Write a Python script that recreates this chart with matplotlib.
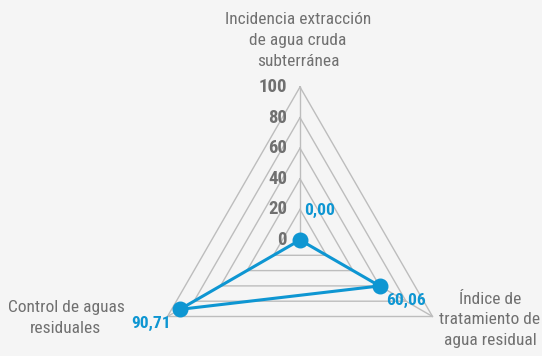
import numpy as np
import matplotlib.pyplot as plt

categories = ['Incidencia extracción\nde agua cruda\nsubterránea',
              'Índice de\ntratamiento de\nagua residual',
              'Control de aguas\nresiduales']
values = [0.00, 60.06, 90.71]
value_labels = ['0,00', '60,06', '90,71']
ticks = [0, 20, 40, 60, 80, 100]

plt.rcParams['font.family'] = ['Roboto Condensed', 'DejaVu Sans']

blue = '#0e96d2'
grey_txt = '#707070'
grid_col = '#bdbdbd'
bg = '#f5f5f5'

angles = np.deg2rad([90, -30, 210])
ux, uy = np.cos(angles), np.sin(angles)

scale = 1.53  # pixels per unit


def px(x, y):
    # pixel position (from top-left) -> data coords
    return (x - 300) / scale, (240 - y) / scale


fig = plt.figure(figsize=(5.42, 3.56), dpi=100, facecolor=bg)
ax = fig.add_axes([0, 0, 1, 1])
ax.set_facecolor(bg)
ax.set_xlim(-300 / scale, (542 - 300) / scale)
ax.set_ylim(-(356 - 240) / scale, 240 / scale)
ax.axis('off')

# triangular grid
for t in ticks[1:]:
    ax.plot(np.append(ux, ux[0]) * t, np.append(uy, uy[0]) * t,
            color=grid_col, lw=1, zorder=1)
for i in range(3):
    ax.plot([0, ux[i] * 100], [0, uy[i] * 100], color=grid_col, lw=1, zorder=1)

# tick labels
for t in ticks:
    ax.text(-8.5, t, str(t), ha='right', va='center', fontsize=13.5,
            fontweight='bold', color=grey_txt)

# data series
vx = ux * np.array(values)
vy = uy * np.array(values)
ax.plot(np.append(vx, vx[0]), np.append(vy, vy[0]), color=blue, lw=2.2, zorder=3)
ax.scatter(vx, vy, s=110, color=blue, zorder=4)

# value labels
for lab, (x, y) in zip(value_labels, [(320, 210), (406, 300), (151, 323)]):
    ax.text(*px(x, y), lab, ha='center', va='center', fontsize=12.5,
            fontweight='bold', color=blue)

# category labels
for lab, (x, y) in zip(categories, [(298, 40), (490, 320), (66, 318)]):
    ax.text(*px(x, y), lab, ha='center', va='center', fontsize=12.5,
            color=grey_txt, linespacing=1.5, multialignment='center')

plt.savefig('out.png', dpi=100, facecolor=bg)
plt.close()
